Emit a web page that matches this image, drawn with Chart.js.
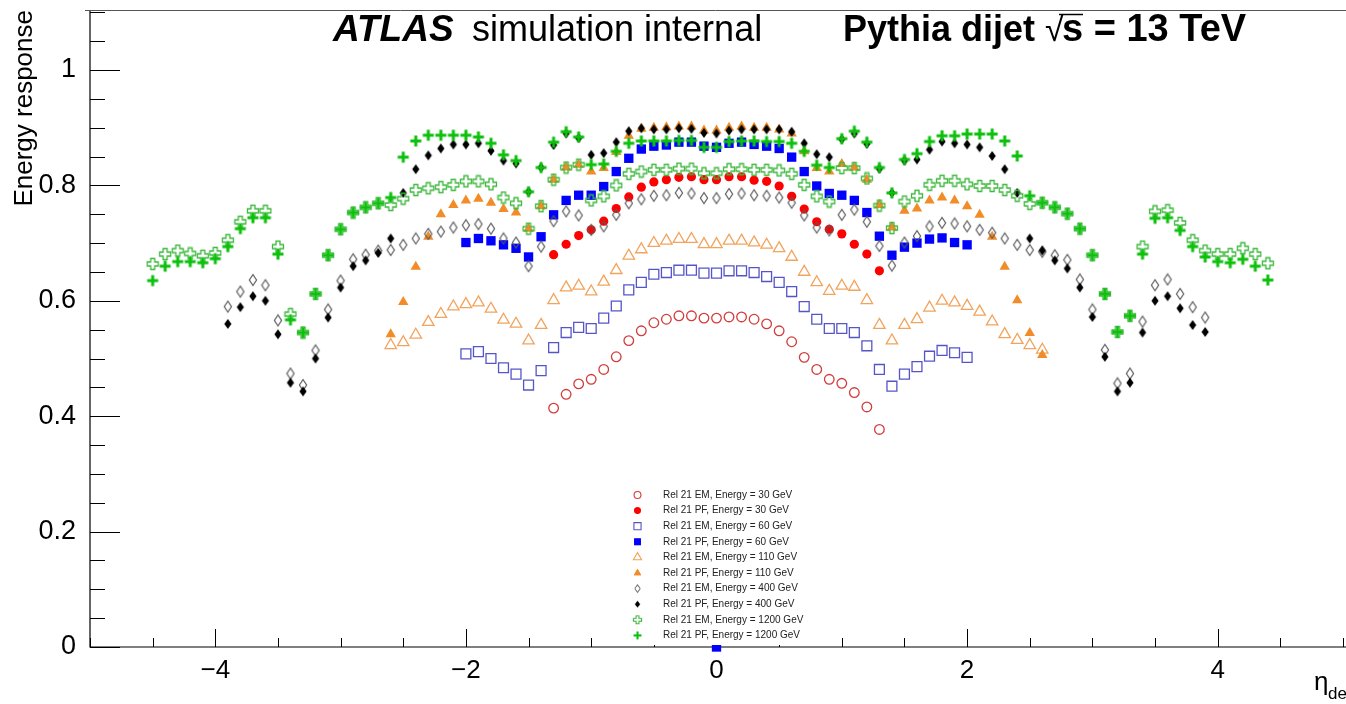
<!DOCTYPE html>
<html>
<head>
<meta charset="utf-8">
<script src="https://cdn.jsdelivr.net/npm/chart.js@4.4.1/dist/chart.umd.min.js"></script>
<style>
  html, body { margin: 0; padding: 0; background: #fff; }
  #plot { display: block; }
</style>
</head>
<body>
<canvas id="plot" width="1346" height="704"></canvas>
<script>
// eta bins (x) and energy response values
const eta = [-4.5,-4.4,-4.3,-4.2,-4.1,-4.0,-3.9,-3.8,-3.7,-3.6,-3.5,-3.4,-3.3,-3.2,-3.1,-3.0,-2.9,-2.8,-2.7,-2.6,
  -2.5,-2.4,-2.3,-2.2,-2.1,-2.0,-1.9,-1.8,-1.7,-1.6,-1.5,-1.4,-1.3,-1.2,-1.1,-1.0,-0.9,-0.8,-0.7,-0.6,
  -0.5,-0.4,-0.3,-0.2,-0.1,0.0,0.1,0.2,0.3,0.4,0.5,0.6,0.7,0.8,0.9,1.0,1.1,1.2,1.3,1.4,
  1.5,1.6,1.7,1.8,1.9,2.0,2.1,2.2,2.3,2.4,2.5,2.6,2.7,2.8,2.9,3.0,3.1,3.2,3.3,3.4,
  3.5,3.6,3.7,3.8,3.9,4.0,4.1,4.2,4.3,4.4];
const N = null;

const em30 = [N,N,N,N,N,N,N,N,N,N, N,N,N,N,N,N,N,N,N,N, N,N,N,N,N,N,N,N,N,N, N,N,
  0.414,0.438,0.456,0.464,0.481,0.503,0.531,0.548,0.562,0.568,0.574,0.574,0.570,0.570,0.572,0.572,
  0.568,0.560,0.548,0.529,0.502,0.481,0.464,0.457,0.441,0.416,0.377,
  N,N,N,N,N,N,N,N,N,N, N,N,N,N,N,N,N,N,N,N, N,N,N,N,N,N,N,N,N,N, N];
const pf30 = [N,N,N,N,N,N,N,N,N,N, N,N,N,N,N,N,N,N,N,N, N,N,N,N,N,N,N,N,N,N, N,N,
  0.680,0.698,0.713,0.723,0.738,0.760,0.780,0.797,0.806,0.810,0.814,0.815,0.810,0.810,0.815,0.815,
  0.809,0.807,0.799,0.781,0.759,0.737,0.724,0.716,0.698,0.681,0.652,
  N,N,N,N,N,N,N,N,N,N, N,N,N,N,N,N,N,N,N,N, N,N,N,N,N,N,N,N,N,N, N];
const em60 = [N,N,N,N,N,N,N,N,N,N, N,N,N,N,N,N,N,N,N,N, N,N,N,N,N,
  0.508,0.512,0.500,0.484,0.473,0.454,0.479,0.519,0.545,0.554,
  0.552,0.570,0.591,0.619,0.632,0.646,0.649,0.653,0.653,0.648,
  0.648,0.652,0.652,0.649,0.642,0.632,0.616,0.590,0.568,0.552,
  0.552,0.545,0.522,0.481,0.452,0.473,0.486,0.504,0.514,0.510,
  0.502,
  N,N,N,N,N,N,N,N,N,N, N,N,N,N,N,N,N,N,N,N, N,N,N,N];
const pf60 = [N,N,N,N,N,N,N,N,N,N, N,N,N,N,N,N,N,N,N,N, N,N,N,N,N,
  0.701,0.708,0.704,0.697,0.691,0.676,0.711,0.749,0.774,0.783,
  0.783,0.798,0.824,0.847,0.863,0.868,0.870,0.875,0.875,0.868,
  0.866,0.873,0.875,0.871,0.868,0.864,0.849,0.824,0.799,0.786,
  0.783,0.774,0.753,0.712,0.679,0.693,0.700,0.707,0.709,0.701,
  0.697,
  N,N,N,N,N,N,N,N,N,N, N,N,N,N,N,N,N,N,N,N, N,N,N,N];
const pf60Stray = [[0.0, 0.0]];
const em110 = [N,N,N,N,N,N,N,N,N,N, N,N,N,N,N,N,N,N,N,
  0.523,0.528,0.541,0.563,0.577,0.590,0.594,0.597,0.586,0.567,
  0.560,0.531,0.558,0.601,0.623,0.626,0.616,0.633,0.653,0.678,
  0.689,0.700,0.704,0.707,0.707,0.698,0.698,0.704,0.704,0.701,
  0.697,0.691,0.676,0.650,0.632,0.617,0.626,0.624,0.601,0.558,
  0.531,0.558,0.568,0.588,0.600,0.597,0.591,0.581,0.564,0.542,
  0.532,0.523,0.515,
  N,N,N,N,N,N,N,N,N,N, N,N,N,N,N,N,N,N];
const pf110 = [N,N,N,N,N,N,N,N,N,N, N,N,N,N,N,N,N,N,N,
  0.542,0.598,0.659,0.711,0.750,0.766,0.774,0.777,0.770,0.759,
  0.753,0.725,0.764,0.810,0.831,0.836,0.824,0.830,0.858,0.886,
  0.898,0.900,0.901,0.902,0.902,0.895,0.895,0.900,0.902,0.900,
  0.900,0.897,0.890,0.859,0.830,0.824,0.837,0.831,0.810,0.766,
  0.727,0.756,0.760,0.774,0.779,0.774,0.764,0.749,0.711,0.659,
  0.601,0.544,0.506,
  N,N,N,N,N,N,N,N,N,N, N,N,N,N,N,N,N,N];
const em400 = [N,N,N,N,N,N,
  0.590,0.616,0.636,0.627,0.566,0.474,0.454,0.514,0.585,0.635,
  0.672,0.680,0.687,0.688,0.697,0.708,0.716,0.720,0.727,0.731,
  0.733,0.725,0.708,0.701,0.660,0.694,0.738,0.755,0.748,0.723,
  0.729,0.749,0.769,0.776,0.782,0.783,0.787,0.786,0.778,0.778,
  0.785,0.786,0.783,0.782,0.779,0.770,0.748,0.727,0.722,0.749,
  0.758,0.737,0.695,0.661,0.701,0.712,0.729,0.735,0.734,0.729,
  0.723,0.718,0.708,0.697,0.688,0.685,0.679,0.671,0.637,0.585,
  0.515,0.457,0.474,0.564,0.627,0.637,0.612,0.589,0.571,
  N,N,N,N,N];
const pf400 = [N,N,N,N,N,N,
  0.560,0.589,0.608,0.600,0.542,0.458,0.443,0.500,0.571,0.623,
  0.660,0.670,0.683,0.708,0.787,0.828,0.852,0.864,0.871,0.871,
  0.873,0.860,0.843,0.838,0.789,0.831,0.870,0.890,0.882,0.853,
  0.856,0.875,0.894,0.899,0.897,0.897,0.899,0.898,0.891,0.890,
  0.895,0.897,0.897,0.897,0.897,0.893,0.873,0.854,0.849,0.880,
  0.890,0.872,0.829,0.787,0.843,0.845,0.862,0.876,0.873,0.871,
  0.866,0.851,0.828,0.787,0.708,0.687,0.670,0.656,0.623,0.572,
  0.503,0.443,0.458,0.545,0.600,0.608,0.587,0.558,0.546,
  N,N,N,N,N];
const em1200 = [
  0.664,0.681,0.687,0.682,0.678,0.683,0.705,0.737,0.756,0.756,
  0.694,0.577,0.545,0.612,0.679,0.724,0.753,0.762,0.769,0.766,
  0.777,0.792,0.795,0.797,0.801,0.807,0.807,0.802,0.779,0.769,
  0.725,0.764,0.810,0.831,0.836,0.774,0.781,0.800,0.820,0.824,
  0.827,0.827,0.829,0.829,0.821,0.821,0.828,0.828,0.827,0.827,
  0.826,0.820,0.801,0.781,0.772,0.830,0.830,0.812,0.765,0.726,
  0.772,0.782,0.801,0.808,0.808,0.802,0.799,0.799,0.792,0.782,
  0.768,0.770,0.762,0.751,0.725,0.679,0.612,0.546,0.574,0.694,
  0.755,0.757,0.735,0.705,0.687,0.681,0.681,0.691,0.681,0.665];
const pf1200 = [
  0.635,0.660,0.668,0.668,0.666,0.673,0.694,0.725,0.744,0.744,
  0.681,0.567,0.545,0.612,0.679,0.724,0.753,0.762,0.769,0.779,
  0.849,0.877,0.887,0.887,0.887,0.887,0.884,0.873,0.853,0.843,
  0.789,0.831,0.875,0.893,0.884,0.836,0.837,0.859,0.873,0.877,
  0.877,0.877,0.878,0.878,0.866,0.866,0.876,0.877,0.877,0.876,
  0.876,0.873,0.859,0.835,0.831,0.881,0.894,0.875,0.831,0.787,
  0.845,0.855,0.876,0.886,0.886,0.889,0.889,0.889,0.877,0.851,
  0.782,0.770,0.762,0.751,0.725,0.679,0.612,0.546,0.574,0.681,
  0.743,0.744,0.722,0.694,0.676,0.668,0.666,0.672,0.660,0.636];

const labels = ['Rel 21 EM, Energy = 30 GeV', 'Rel 21 PF, Energy = 30 GeV',
  'Rel 21 EM, Energy = 60 GeV', 'Rel 21 PF, Energy = 60 GeV',
  'Rel 21 EM, Energy = 110 GeV', 'Rel 21 PF, Energy = 110 GeV',
  'Rel 21 EM, Energy = 400 GeV', 'Rel 21 PF, Energy = 400 GeV',
  'Rel 21 EM, Energy = 1200 GeV', 'Rel 21 PF, Energy = 1200 GeV'];
const xTicks = [-4, -2, 0, 2, 4];
const yTicks = [0, 0.2, 0.4, 0.6, 0.8, 1];

const FONT = '"Liberation Sans", Arial, Helvetica, sans-serif';

// small canvases for the ROOT-like markers chart.js doesn't have
function marker(w, h, fn) {
  const c = document.createElement('canvas');
  c.width = w; c.height = h;
  fn(c.getContext('2d'), w / 2, h / 2);
  return c;
}
function crossPath(g, cx, cy, a, L) {
  g.beginPath();
  g.moveTo(cx - a, cy - L); g.lineTo(cx + a, cy - L); g.lineTo(cx + a, cy - a);
  g.lineTo(cx + L, cy - a); g.lineTo(cx + L, cy + a); g.lineTo(cx + a, cy + a);
  g.lineTo(cx + a, cy + L); g.lineTo(cx - a, cy + L); g.lineTo(cx - a, cy + a);
  g.lineTo(cx - L, cy + a); g.lineTo(cx - L, cy - a); g.lineTo(cx - a, cy - a);
  g.closePath();
}
const openDiamond = marker(10, 14, (g, cx, cy) => {
  g.beginPath(); g.moveTo(cx, cy - 5.5); g.lineTo(cx + 3.6, cy); g.lineTo(cx, cy + 5.5); g.lineTo(cx - 3.6, cy); g.closePath();
  g.strokeStyle = '#5a5a5a'; g.lineWidth = 1.2; g.stroke();
});
const fullDiamond = marker(10, 12, (g, cx, cy) => {
  g.beginPath(); g.moveTo(cx, cy - 5); g.lineTo(cx + 3.6, cy); g.lineTo(cx, cy + 5); g.lineTo(cx - 3.6, cy); g.closePath();
  g.fillStyle = '#000'; g.fill();
});
const openCross = marker(14, 14, (g, cx, cy) => {
  crossPath(g, cx, cy, 2.0, 5.5); g.strokeStyle = '#3db83d'; g.lineWidth = 1.3; g.stroke();
});
const fullCross = marker(14, 14, (g, cx, cy) => {
  crossPath(g, cx, cy, 1.5, 5.5); g.fillStyle = '#0cc00c'; g.fill();
});

const styles = [
  { pointStyle: 'circle', radius: 4.8, color: '#d33c3c', open: true },
  { pointStyle: 'circle', radius: 4.6, color: '#ff0000', open: false },
  { pointStyle: 'rect', radius: 7.0, color: '#5555c8', open: true },
  { pointStyle: 'rect', radius: 6.6, color: '#0000ff', open: false },
  { pointStyle: 'triangle', radius: 6.6, color: '#f2a35c', open: true },
  { pointStyle: 'triangle', radius: 6.0, color: '#f28c28', open: false },
  { pointStyle: openDiamond, radius: 5, color: '#5a5a5a', open: true },
  { pointStyle: fullDiamond, radius: 5, color: '#000000', open: false },
  { pointStyle: openCross, radius: 6, color: '#3db83d', open: true },
  { pointStyle: fullCross, radius: 6, color: '#0cc00c', open: false }
];
const seriesVals = [em30, pf30, em60, pf60, em110, pf110, em400, pf400, em1200, pf1200];

function toPoints(vals) {
  const pts = [];
  eta.forEach((x, i) => { if (vals[i] !== null) pts.push({ x: x, y: vals[i] }); });
  return pts;
}

const datasets = seriesVals.map((vals, i) => {
  const s = styles[i];
  let data = toPoints(vals);
  if (vals === pf60) data = data.concat(pf60Stray.map(p => ({ x: p[0], y: p[1] })));
  return {
    label: labels[i],
    data: data,
    showLine: false,
    pointStyle: s.pointStyle,
    pointRadius: s.radius,
    pointBorderWidth: s.open ? 1.3 : 0,
    pointBorderColor: s.color,
    pointBackgroundColor: s.open ? 'rgba(0,0,0,0)' : s.color,
    order: 9 - i,
    clip: false
  };
});

// ROOT-style inside ticks, axis lines, frame top
const axesPlugin = {
  id: 'rootAxes',
  beforeDatasetsDraw(chart) {
    const ctx = chart.ctx, a = chart.chartArea, xs = chart.scales.x, ys = chart.scales.y;
    ctx.save();
    ctx.strokeStyle = '#000'; ctx.lineWidth = 1.2;
    ctx.beginPath();
    ctx.moveTo(a.left, a.top); ctx.lineTo(a.left, a.bottom); ctx.lineTo(1346, a.bottom);
    ctx.stroke();
    ctx.strokeStyle = '#555'; ctx.lineWidth = 1;
    ctx.beginPath(); ctx.moveTo(a.left - 5, a.top + 0.5); ctx.lineTo(1346, a.top + 0.5); ctx.stroke();
    ctx.strokeStyle = '#000'; ctx.lineWidth = 1;
    ctx.beginPath();
    for (let v = 0; v <= 1.1001; v += 0.05) {
      const y = Math.round(ys.getPixelForValue(v)) + 0.5;
      const major = Math.abs(v / 0.2 - Math.round(v / 0.2)) < 1e-6;
      ctx.moveTo(a.left, y); ctx.lineTo(a.left + (major ? 30 : 15), y);
    }
    for (let v = -5; v <= 5.0001; v += 0.5) {
      const x = Math.round(xs.getPixelForValue(v)) + 0.5;
      const major = Math.abs(v / 2 - Math.round(v / 2)) < 1e-6;
      ctx.moveTo(x, a.bottom); ctx.lineTo(x, a.bottom - (major ? 18 : 9));
    }
    ctx.stroke();
    ctx.restore();
  },
  afterDatasetsDraw(chart) {
    const ctx = chart.ctx;
    ctx.save();
    // legend box
    ctx.fillStyle = '#fff';
    ctx.fillRect(607, 481, 231, 164);
    chart.data.datasets.forEach((ds, i) => {
      const y = 495 + i * 15.6;
      const s = styles[i];
      if (typeof s.pointStyle === 'string') {
        ctx.strokeStyle = s.color;
        ctx.fillStyle = s.open ? 'rgba(0,0,0,0)' : s.color;
        ctx.lineWidth = s.open ? 1.1 : 0;
        Chart.helpers.drawPoint(ctx, { pointStyle: s.pointStyle, radius: s.radius * 0.72, borderWidth: s.open ? 1.1 : 0, rotation: 0 }, 637.5, y);
        if (!s.open) { ctx.fill(); }
      } else {
        const img = s.pointStyle;
        ctx.drawImage(img, 637.5 - img.width * 0.36, y - img.height * 0.36, img.width * 0.72, img.height * 0.72);
      }
      ctx.fillStyle = '#222';
      ctx.font = '10px ' + FONT;
      ctx.textBaseline = 'middle';
      ctx.textAlign = 'left';
      ctx.fillText(ds.label, 663, y);
    });
    ctx.restore();
  },
  afterDraw(chart) {
    const ctx = chart.ctx;
    ctx.save();
    ctx.fillStyle = '#000';
    ctx.strokeStyle = '#000';
    ctx.textBaseline = 'alphabetic';
    ctx.textAlign = 'left';
    ctx.font = 'italic bold 37px ' + FONT;
    ctx.fillText('ATLAS', 333, 41);
    ctx.font = '36px ' + FONT;
    ctx.fillText('simulation internal', 472, 41);
    ctx.font = 'bold 36px ' + FONT;
    ctx.fillText('Pythia dijet', 843, 41);
    ctx.font = '34px ' + FONT;
    ctx.fillText('\u221A', 1045, 41);
    ctx.font = 'bold 38px ' + FONT;
    ctx.fillText('s = 13 TeV', 1062, 41);
    ctx.lineWidth = 1.5;
    ctx.beginPath(); ctx.moveTo(1059, 14.5); ctx.lineTo(1083, 14.5); ctx.stroke();
    // y axis title
    ctx.save();
    ctx.translate(25, 10);
    ctx.rotate(-Math.PI / 2);
    ctx.font = '26px ' + FONT;
    ctx.textAlign = 'right';
    ctx.textBaseline = 'middle';
    ctx.fillText('Energy response', 0, 0);
    ctx.restore();
    // x axis title
    ctx.font = '26px ' + FONT;
    ctx.textBaseline = 'alphabetic';
    ctx.fillText('\u03B7', 1314, 690);
    ctx.font = '17px ' + FONT;
    ctx.fillText('det', 1328, 699);
    ctx.restore();
  }
};

new Chart(document.getElementById('plot'), {
  type: 'scatter',
  data: { datasets: datasets },
  options: {
    responsive: false,
    animation: false,
    devicePixelRatio: 1,
    layout: { autoPadding: false, padding: { top: 10, right: 3, left: 0, bottom: 0 } },
    plugins: { legend: { display: false }, tooltip: { enabled: false } },
    scales: {
      x: {
        type: 'linear', min: -5, max: 5,
        afterBuildTicks: s => { s.ticks = xTicks.map(v => ({ value: v })); },
        afterFit: s => { s.height = 57; s.paddingLeft = 0; s.paddingRight = 0; },
        grid: { display: false, drawTicks: false },
        border: { display: false },
        ticks: { padding: 8, autoSkip: false, maxRotation: 0, color: '#000', font: { size: 26, family: FONT },
          callback: v => v < 0 ? '\u2212' + Math.abs(v) : String(v) }
      },
      y: {
        type: 'linear', min: 0, max: 1.104,
        afterBuildTicks: s => { s.ticks = yTicks.map(v => ({ value: v })); },
        afterFit: s => { s.width = 90; s.paddingTop = 0; s.paddingBottom = 0; },
        grid: { display: false, drawTicks: false },
        border: { display: false },
        ticks: { padding: 14, autoSkip: false, color: '#000', font: { size: 27, family: FONT },
          callback: v => (v === 0 || v === 1) ? String(v) : v.toFixed(1) }
      }
    }
  },
  plugins: [axesPlugin]
});
</script>
</body>
</html>
